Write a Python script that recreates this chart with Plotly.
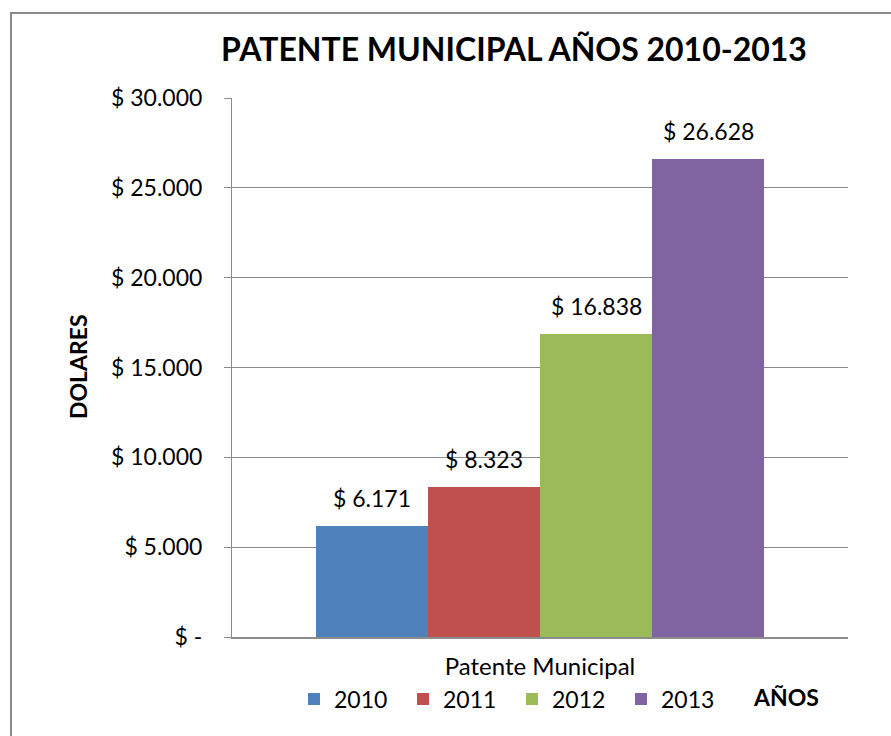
import plotly.graph_objects as go

# Data
years = ["2010", "2011", "2012", "2013"]
values = [6171, 8323, 16838, 26628]
colors = ["#4F81BD", "#C0504D", "#9BBB59", "#8064A2"]
category_label = "Patente Municipal"
y_tickvals = [0, 5000, 10000, 15000, 20000, 25000, 30000]
y_ticktext = ["$ -", "$ 5.000", "$ 10.000", "$ 15.000", "$ 20.000", "$ 25.000", "$ 30.000"]


def money(v):
    return "$ " + f"{v:,}".replace(",", ".")


FONT = "Lato"
GRID = "#8C8C8C"

W, H = 891, 736
L, R, T, B = 232, 43, 98, 99
pw, ph = W - L - R, H - T - B


def px_x(x):
    return (x - L) / pw


def px_y(y):
    return (H - B - y) / ph


fig = go.Figure()
for yr, v, c in zip(years, values, colors):
    fig.add_trace(go.Bar(
        x=[yr], y=[v], name=yr,
        marker=dict(color=c, line=dict(width=0)),
        hoverinfo="skip",
    ))

# value labels above each bar (x given as category index)
notes = []
for i, v in enumerate(values):
    notes.append(dict(
        x=i, y=v, xref="x", yref="y", text=money(v),
        showarrow=False, yanchor="bottom", yshift=12,
        font=dict(family=FONT, size=23, color="#000000"),
    ))

notes += [
    dict(text="<b>DOLARES</b>", x=px_x(78), y=px_y(367), xref="paper", yref="paper",
         textangle=-90, showarrow=False, xanchor="center", yanchor="middle",
         font=dict(family=FONT, size=23)),
    dict(text="<b>AÑOS</b>", x=px_x(786), y=px_y(697), xref="paper", yref="paper",
         showarrow=False, xanchor="center", yanchor="middle",
         font=dict(family=FONT, size=23)),
]

fig.update_layout(
    width=W, height=H,
    margin=dict(l=L, r=R, t=T, b=B),
    paper_bgcolor="white", plot_bgcolor="white",
    barmode="overlay", bargap=0,
    font=dict(family=FONT, size=23, color="#000000"),
    title=dict(
        text="<b>PATENTE MUNICIPAL AÑOS 2010-2013</b>",
        x=514 / W, xanchor="center", xref="container",
        y=1 - 50 / H, yanchor="middle", yref="container",
        font=dict(family=FONT, size=32, color="#000000"),
    ),
    showlegend=True,
    legend=dict(
        orientation="h", x=px_x(512), xanchor="center",
        y=px_y(699), yanchor="middle",
        font=dict(family=FONT, size=23, color="#000000"),
        entrywidth=64, entrywidthmode="pixels",
        bgcolor="rgba(0,0,0,0)", traceorder="normal",
    ),
    xaxis=dict(
        type="category", categoryorder="array", categoryarray=years,
        range=[-1.25, 4.25],
        tickmode="array", tickvals=[1.5], ticktext=[category_label],
        ticks="", showgrid=False, zeroline=False,
        showline=True, linecolor=GRID, linewidth=2,
        ticklabelstandoff=7,
        tickfont=dict(family=FONT, size=24),
    ),
    yaxis=dict(
        range=[0, 30000], tickmode="array",
        tickvals=y_tickvals, ticktext=y_ticktext,
        ticks="outside", ticklen=7, tickcolor=GRID, tickwidth=1,
        showgrid=True, gridcolor=GRID, gridwidth=1,
        zeroline=False, showline=True, linecolor=GRID, linewidth=1,
        ticklabelstandoff=17,
        tickfont=dict(family=FONT, size=23),
    ),
    annotations=notes,
    shapes=[
        dict(type="rect", xref="paper", yref="paper",
             x0=px_x(11), y0=px_y(760), x1=px_x(920), y1=px_y(13),
             line=dict(color="#8A8A8A", width=2), layer="below"),
    ],
)

fig.write_html("out.html")
